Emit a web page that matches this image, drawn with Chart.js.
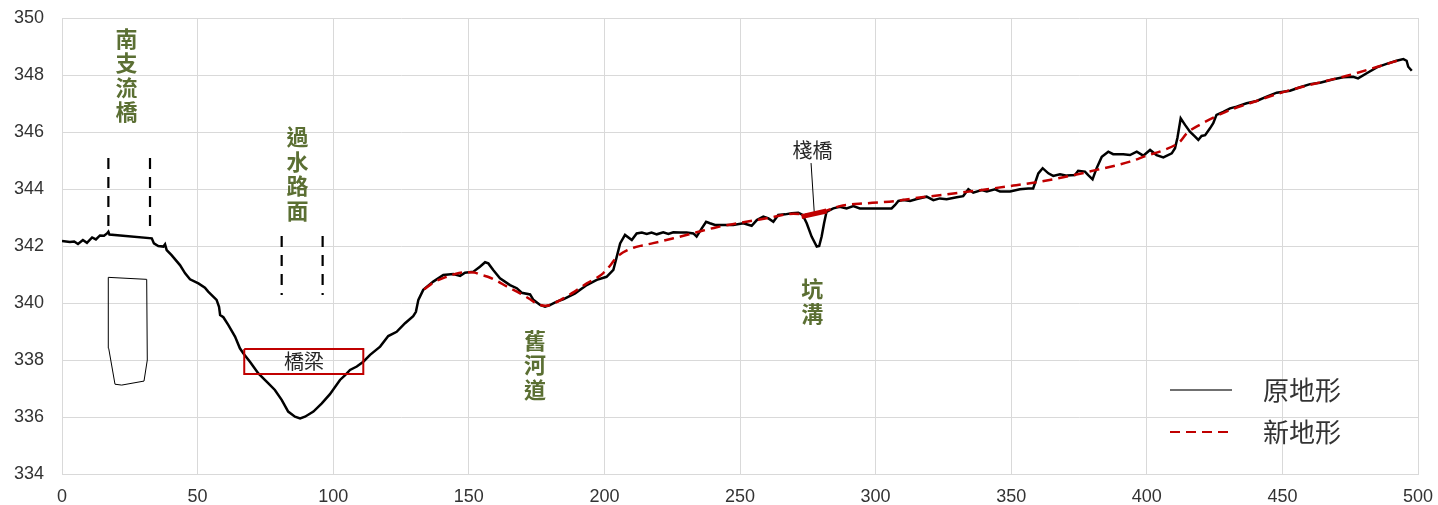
<!DOCTYPE html>
<html>
<head>
<meta charset="utf-8">
<script src="https://cdn.jsdelivr.net/npm/chart.js@4.4.1/dist/chart.umd.min.js"></script>
<style>
  html, body { margin: 0; padding: 0; background: #ffffff; }
  #wrap { width: 1438px; height: 505px; }
</style>
</head>
<body>
<div id="wrap"><canvas id="profile" width="1438" height="505"></canvas></div>
<script>
// 原地形 (existing ground profile): distance (m) / elevation (m)
const origDist = [0, 2.9, 4.5, 5.9, 7.7, 9.2, 11.1, 12.5, 14.0, 15.5, 16.6, 17.1, 17.5,
  33.1, 33.9, 35.5, 37.4, 38.0, 38.6, 40.4, 43.5, 45.4, 47.2, 50.3, 52.7, 53.9, 57.0, 57.9, 58.3,
  59.5, 61.3, 63.8, 65.6, 66.9, 69.3, 72.4, 76.1, 78.5, 81.0, 83.4, 85.9, 87.8, 89.6, 92.7, 95.8,
  98.8, 102.5, 104.5, 106.2, 108.7, 111.1, 113.6, 117.3, 120.3, 123.4, 126.5, 129.5, 130.5, 131.4,
  133.2, 136.9, 140.6, 144.3, 146.8, 148.6, 151.7, 154.1, 156.0, 157.2, 159.0, 161.5, 165.2, 167.7,
  169.5, 172.6, 173.8, 176.3, 178.1, 179.9, 182.4, 184.8, 189.2, 193.5, 197.2, 200.8, 203.3, 204.5,
  205.8, 207.6, 210.1, 211.9, 213.8, 215.6, 217.4, 219.3, 221.7, 223.6, 225.4, 227.9, 230.3, 232.8,
  234.0, 235.9, 237.5, 238.9, 240.8, 243.8, 247.5, 251.2, 254.3, 256.2, 258.6, 260.5, 262.3, 264.1,
  266.6, 269.1, 271.5, 273.1, 274.6, 276.4, 278.3, 279.2, 280.1, 281.0, 281.9, 284.4, 286.8, 289.3,
  291.8, 294.2, 297.9, 302.8, 305.9, 307.2, 308.4, 310.2, 312.7, 315.2, 318.8, 321.3, 323.7, 326.2,
  329.9, 332.3, 334.2, 336.0, 339.1, 341.0, 344.0, 345.9, 349.6, 353.2, 356.3, 358.1, 360.0, 361.6,
  363.7, 365.5, 368.0, 370.5, 373.5, 374.7, 377.2, 378.4, 380.0, 381.5, 383.4, 385.8, 387.6, 391.3,
  393.8, 396.3, 398.7, 401.2, 403.6, 406.1, 409.2, 410.4, 411.3, 412.5, 414.1, 415.9, 417.8, 419.0,
  420.2, 421.5, 423.3, 424.5, 425.7, 428.2, 430.7, 433.1, 436.8, 440.5, 444.2, 447.9, 452.8, 456.5,
  460.2, 463.9, 468.8, 472.4, 476.1, 477.9, 481.1, 484.8, 488.4, 492.1, 494.6, 495.8, 496.4, 497.7];
const origElev = [342.18, 342.14, 342.16, 342.07, 342.21, 342.11, 342.30, 342.23, 342.37, 342.36, 342.44, 342.50, 342.40,
  342.27, 342.09, 342.00, 341.98, 342.06, 341.86, 341.68, 341.33, 341.04, 340.83, 340.69, 340.54, 340.40, 340.11, 339.87, 339.58,
  339.50, 339.23, 338.82, 338.41, 338.23, 337.94, 337.53, 337.18, 336.95, 336.60, 336.19, 336.01, 335.95, 336.01, 336.19, 336.48,
  336.80, 337.30, 337.48, 337.65, 337.77, 337.94, 338.18, 338.47, 338.84, 338.99, 339.29, 339.54, 339.69, 340.11,
  340.46, 340.75, 340.98, 341.02, 340.95, 341.06, 341.10, 341.27, 341.43, 341.39, 341.16, 340.87, 340.63, 340.52,
  340.36, 340.30, 340.11, 339.93, 339.87, 339.93, 340.05, 340.13, 340.34, 340.63, 340.81, 340.92, 341.16, 341.60,
  342.09, 342.39, 342.21, 342.44, 342.47, 342.42, 342.47, 342.41, 342.48, 342.42, 342.48, 342.47, 342.47, 342.44,
  342.33, 342.62, 342.85, 342.80, 342.74, 342.74, 342.74, 342.80, 342.71, 342.91, 343.03, 342.97, 342.85, 343.09,
  343.11, 343.15, 343.17, 343.09, 342.80, 342.33, 341.98, 342.00, 342.33, 342.80, 343.20, 343.32, 343.38, 343.32,
  343.40, 343.32, 343.32, 343.32, 343.32, 343.44, 343.58, 343.61, 343.58, 343.65, 343.73, 343.61, 343.67, 343.64,
  343.71, 343.75, 343.99, 343.87, 343.96, 343.91, 343.99, 343.91, 343.91, 343.99, 344.02, 344.02, 344.55, 344.73,
  344.55, 344.46, 344.52, 344.47, 344.49, 344.64, 344.61, 344.49, 344.34, 344.73, 345.13, 345.31, 345.22, 345.22,
  345.19, 345.31, 345.17, 345.37, 345.19, 345.11, 345.25, 345.43, 345.80, 346.48, 346.25, 346.01, 345.84, 345.72,
  345.86, 345.89, 346.13, 346.31, 346.60, 346.71, 346.83, 346.89, 347.01, 347.09, 347.24, 347.38, 347.45, 347.57,
  347.68, 347.73, 347.85, 347.92, 347.94, 347.88, 348.06, 348.27, 348.39, 348.50, 348.56, 348.50, 348.29, 348.15];

// 新地形 (design ground profile)
const newDist = [133.5, 137.0, 141.8, 145.0, 149.2, 152.0, 154.1, 157.0, 160.3, 164.0, 168.9, 172.6, 175.0,
  178.3, 181.0, 184.8, 189.0, 193.5, 197.2, 199.6, 202.0, 204.0, 206.0, 208.0, 210.7, 214.0, 218.0,
  225.4, 234.0, 241.4, 250.0, 259.8, 269.7, 275.0, 279.0, 281.9, 286.8, 296.7, 307.8, 313.9, 326.2,
  338.5, 350.8, 360.6, 369.2, 381.5, 393.8, 400.0, 406.1, 412.2, 414.7, 420.0, 425.7, 432.0, 438.0,
  450.3, 462.6, 474.9, 484.8, 494.0];
const newElev = [340.48, 340.72, 340.92, 341.02, 341.08, 341.07, 341.00, 340.92, 340.78, 340.58, 340.34, 340.13, 339.98,
  339.90, 339.97, 340.16, 340.40, 340.69, 340.88, 341.05, 341.30, 341.55, 341.72, 341.83, 341.94, 342.02, 342.10,
  342.27, 342.48, 342.66, 342.81, 342.97, 343.13, 343.10, 343.17, 343.24, 343.40, 343.50, 343.58, 343.67, 343.81,
  343.96, 344.12, 344.26, 344.41, 344.67, 344.96, 345.17, 345.36, 345.66, 345.95, 346.28, 346.56, 346.82, 347.01,
  347.40, 347.71, 348.00, 348.28, 348.55];

// 棧橋 deck
const deckDist = [272.7, 281.9];
const deckElev = [343.03, 343.23];
// 棧橋 leader line
const leaderDist = [276.2, 277.4];
const leaderElev = [344.91, 343.15];
// Bridge pier outline under 南支流橋
const pierDist = [17.07, 31.23, 31.45, 30.24, 22.01, 19.54, 17.22, 17.07];
const pierElev = [340.90, 340.83, 338.00, 337.26, 337.12, 337.15, 338.41, 340.90];
// 橋梁 frame
const beamDist = [67.2, 111.1, 111.1, 67.2, 67.2];
const beamElev = [338.39, 338.39, 337.51, 337.51, 338.39];
// Abutment marks: [distance, top elevation, bottom elevation]
const abutments = [[17.1, 345.09, 342.56], [32.45, 345.09, 342.56], [81.0, 342.35, 340.28], [96.1, 342.35, 340.28]];

// Axis ticks
const xTicks = [0, 50, 100, 150, 200, 250, 300, 350, 400, 450, 500];
const yTicks = [334, 336, 338, 340, 342, 344, 346, 348, 350];

// Text labels
const verticalNotes = [
  { text: '南支流橋', x: 23.8, y: 349.28 },
  { text: '過水路面', x: 86.8, y: 345.83 },
  { text: '舊河道', x: 174.4, y: 338.68 },
  { text: '坑溝', x: 276.6, y: 340.49 }
];
const plainNotes = [
  { text: '橋梁', x: 89.2, y: 337.96 },
  { text: '棧橋', x: 276.7, y: 345.37 }
];

const zip = (xs, ys) => xs.map((v, i) => ({ x: v, y: ys[i] }));

const datasets = [
  { label: '原地形', data: zip(origDist, origElev), borderColor: '#000000', borderWidth: 2.5, order: 2 },
  { label: '新地形', data: zip(newDist, newElev), borderColor: '#c00000', borderWidth: 2.5,
    borderDash: [10, 6], cubicInterpolationMode: 'monotone', order: 1 },
  { data: zip(deckDist, deckElev), borderColor: '#c00000', borderWidth: 5, order: 0 },
  { data: zip(leaderDist, leaderElev), borderColor: '#000000', borderWidth: 1, order: 0 },
  { data: zip(pierDist, pierElev), borderColor: '#000000', borderWidth: 1, order: 3 },
  { data: zip(beamDist, beamElev), borderColor: '#c00000', borderWidth: 2, order: 0 }
];
abutments.forEach(a => datasets.push({
  data: [{ x: a[0], y: a[1] }, { x: a[0], y: a[2] }],
  borderColor: '#000000', borderWidth: 2.2, borderDash: [11, 8], order: 3
}));
datasets.forEach(d => { d.showLine = true; d.pointRadius = 0; d.pointHoverRadius = 0; d.fill = false; });

const notesPlugin = {
  id: 'notes',
  afterDatasetsDraw(chart) {
    const { ctx, chartArea, scales: { x, y } } = chart;
    ctx.save();
    ctx.textAlign = 'center';
    ctx.textBaseline = 'middle';
    ctx.fillStyle = '#5b6f33';
    ctx.font = 'bold 22px "Noto Sans CJK TC"';
    verticalNotes.forEach(n => {
      const px = x.getPixelForValue(n.x);
      let py = y.getPixelForValue(n.y);
      for (const ch of n.text) { ctx.fillText(ch, px, py); py += 24.5; }
    });
    ctx.fillStyle = '#262626';
    ctx.font = '20px "Noto Sans CJK TC"';
    plainNotes.forEach(n => ctx.fillText(n.text, x.getPixelForValue(n.x), y.getPixelForValue(n.y)));

    // legend in the lower right of the plot
    const rows = chart.data.datasets.filter(d => d.label);
    const lx0 = chartArea.right - 248, lx1 = chartArea.right - 186, tx = chartArea.right - 155;
    rows.forEach((d, i) => {
      const ly = chartArea.bottom - 84 + i * 42;
      ctx.beginPath();
      ctx.strokeStyle = d.borderDash ? d.borderColor : '#404040';
      ctx.lineWidth = d.borderDash ? 2 : 1.5;
      ctx.setLineDash(d.borderDash ? d.borderDash : []);
      ctx.moveTo(lx0, ly); ctx.lineTo(lx1, ly); ctx.stroke();
      ctx.setLineDash([]);
      ctx.fillStyle = '#333333';
      ctx.font = '26px "Noto Sans CJK TC"';
      ctx.textAlign = 'left';
      ctx.fillText(d.label, tx, ly);
    });
    ctx.restore();
  }
};

new Chart(document.getElementById('profile'), {
  type: 'scatter',
  data: { datasets },
  options: {
    responsive: false,
    animation: false,
    devicePixelRatio: 1,
    layout: { padding: { top: 18, right: 20, left: 0, bottom: 0 } },
    plugins: { legend: { display: false }, tooltip: { enabled: false } },
    scales: {
      x: {
        type: 'linear', min: 0, max: 500,
        afterBuildTicks: s => { s.ticks = xTicks.map(v => ({ value: v })); },
        afterFit: s => { s.height = 31; s.paddingLeft = 0; s.paddingRight = 0; },
        grid: { color: '#d9d9d9', lineWidth: 1, drawTicks: false },
        border: { color: '#d9d9d9' },
        ticks: { padding: 12, color: '#333333', font: { family: '"Liberation Sans", Arial', size: 18 } }
      },
      y: {
        type: 'linear', min: 334, max: 350,
        afterBuildTicks: s => { s.ticks = yTicks.map(v => ({ value: v })); },
        afterFit: s => { s.width = 62; s.paddingTop = 0; s.paddingBottom = 0; },
        grid: { color: '#d9d9d9', lineWidth: 1, drawTicks: false },
        border: { color: '#d9d9d9' },
        ticks: { padding: 18, color: '#333333', font: { family: '"Liberation Sans", Arial', size: 18 } }
      }
    }
  },
  plugins: [notesPlugin]
});
</script>
</body>
</html>
